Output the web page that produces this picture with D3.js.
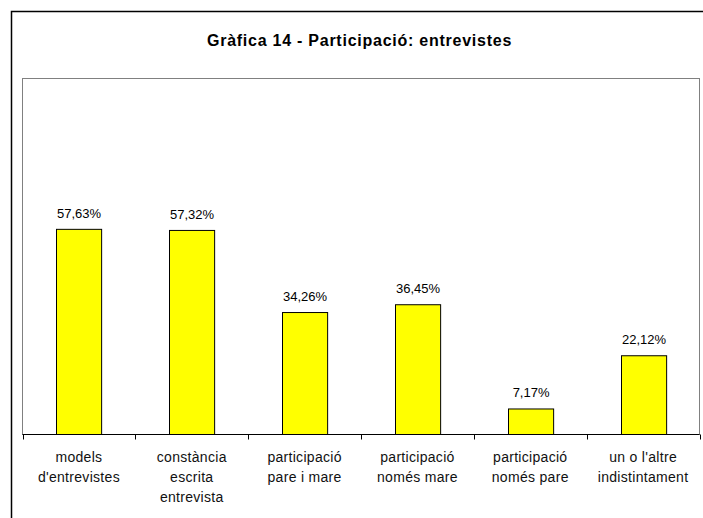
<!DOCTYPE html>
<html><head><meta charset="utf-8">
<script src="https://cdn.jsdelivr.net/npm/d3@7"></script>
<style>body{margin:0;background:#fff}svg{display:block}</style>
</head><body>
<script>
const title = "Gràfica 14 - Participació: entrevistes";
const categories = [
  ["models", "d'entrevistes"],
  ["constància", "escrita", "entrevista"],
  ["participació", "pare i mare"],
  ["participació", "només mare"],
  ["participació", "només pare"],
  ["un o l'altre", "indistintament"]
];
const values = [57.63, 57.32, 34.26, 36.45, 7.17, 22.12];
const yDomain = [0, 100];

const W = 703, H = 518;
const svg = d3.select("body").append("svg").attr("width", W).attr("height", H);

// outer chart border
svg.append("path").attr("d", `M11.5,${H+2} V11.5 H${W+2}`)
  .attr("fill", "none").attr("stroke", "#000").attr("stroke-width", 1.5);

const plot = {left: 22.5, right: 699.5, top: 78.5, bottom: 434.5};

svg.append("text").attr("x", 359.5).attr("y", 46)
  .attr("text-anchor", "middle").attr("font-family", "Liberation Sans, Arial, sans-serif")
  .attr("font-weight", "bold").attr("font-size", 16).attr("letter-spacing", 0.75).text(title);

const x = d3.scaleBand().domain(d3.range(categories.length))
  .range([plot.left, plot.right]).paddingInner(0.6).paddingOuter(0.3);
const xb = d3.scaleBand().domain(d3.range(categories.length)).range([plot.left, plot.right]);
const y = d3.scaleLinear().domain(yDomain).range([plot.bottom, plot.top]);

// plot area border
svg.append("rect").attr("x", plot.left).attr("y", plot.top)
  .attr("width", plot.right - plot.left).attr("height", plot.bottom - plot.top)
  .attr("fill", "none").attr("stroke", "#808080").attr("stroke-width", 1);

svg.selectAll("rect.bar").data(values).join("rect").attr("class", "bar")
  .attr("x", (d, i) => Math.round(x(i)) + 0.5).attr("width", x.bandwidth())
  .attr("y", d => y(d)).attr("height", d => y(0) - y(d))
  .attr("fill", "#ffff00").attr("stroke", "#000").attr("stroke-width", 1);

svg.selectAll("text.val").data(values).join("text").attr("class", "val")
  .attr("x", (d, i) => Math.round(x(i)) + 0.5 + x.bandwidth() / 2).attr("y", d => y(d) - 11.5)
  .attr("text-anchor", "middle").attr("font-family", "Liberation Sans, Arial, sans-serif")
  .attr("font-size", 13).text(d => d.toFixed(2).replace(".", ",") + "%");

// category axis
const axisG = svg.append("g").attr("transform", `translate(0,${plot.bottom})`);
axisG.append("line").attr("x1", plot.left).attr("x2", plot.right).attr("stroke", "#000");
const tickXs = d3.range(categories.length + 1).map(i => i < categories.length ? xb(i) : plot.right);
axisG.selectAll("line.tick").data(tickXs).join("line").attr("class", "tick")
  .attr("x1", d => Math.round(d) + 0.5).attr("x2", d => Math.round(d) + 0.5)
  .attr("y1", 0).attr("y2", 5).attr("stroke", "#000");

const lab = svg.selectAll("text.cat").data(categories).join("text").attr("class", "cat")
  .attr("text-anchor", "middle").attr("font-family", "Liberation Sans, Arial, sans-serif")
  .attr("font-size", 14).attr("letter-spacing", 0.3).attr("fill", "#111")
  .attr("transform", (d, i) => `translate(${xb(i) + xb.bandwidth() / 2},462)`);
lab.selectAll("tspan").data(d => d).join("tspan").attr("x", 0)
  .attr("dy", (d, j) => j === 0 ? 0 : 20).text(d => d);
</script>
</body></html>
